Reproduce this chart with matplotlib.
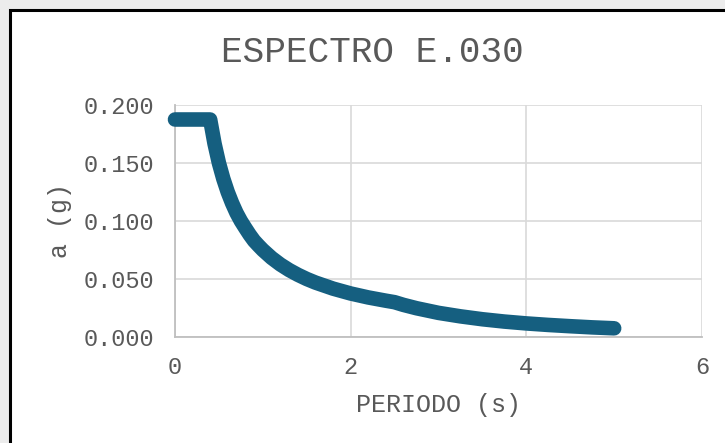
import matplotlib
matplotlib.use("Agg")
import matplotlib.pyplot as plt
from matplotlib.patches import Rectangle

# Spectrum values: period (s) vs spectral acceleration (g)
periods = [0.0, 0.1, 0.2, 0.3, 0.4, 0.45, 0.5, 0.55, 0.6, 0.65, 0.7, 0.75,
           0.8, 0.85, 0.9, 0.95, 1.0, 1.1, 1.2, 1.3, 1.4, 1.5, 1.6, 1.8, 2.0,
           2.2, 2.4, 2.5, 2.6, 2.75, 3.0, 3.25, 3.5, 3.75, 4.0, 4.25, 4.5,
           4.75, 5.0]
accel = [0.1875, 0.1875, 0.1875, 0.1875, 0.1875, 0.1667, 0.150, 0.1364,
         0.125, 0.1154, 0.107, 0.100, 0.094, 0.0882, 0.083, 0.0789, 0.075,
         0.0682, 0.0625, 0.0577, 0.0536, 0.050, 0.0469, 0.0417, 0.0375,
         0.0341, 0.0313, 0.030, 0.0277, 0.0248, 0.0208, 0.0178, 0.0153,
         0.0133, 0.0117, 0.0104, 0.0093, 0.0083, 0.0075]
x_ticks = [0, 2, 4, 6]
y_ticks = [0.0, 0.05, 0.10, 0.15, 0.20]

font = "Liberation Mono"
text_col = "#595959"
line_col = "#155f80"

fig = plt.figure(figsize=(7.25, 4.43), dpi=100)
fig.patch.set_facecolor("#ececec")

# white chart frame with black border, cut by the image edges
W, H = 725, 443
frame = Rectangle((10 / W, -0.05), 1.1, (H - 10) / H + 0.05,
                  transform=fig.transFigure, facecolor="white",
                  edgecolor="black", linewidth=2.2, zorder=-1)
fig.patches.append(frame)

ax = fig.add_axes([175 / W, 1 - 337 / H, (702 - 175) / W, (337 - 105) / H])
ax.set_zorder(1)
ax.set_facecolor("white")

ax.plot(periods, accel, color=line_col, linewidth=10.5,
        solid_capstyle="round", solid_joinstyle="round", zorder=3,
        clip_on=False)

ax.set_xlim(0, 6)
ax.set_ylim(0, 0.2)
ax.set_xticks(x_ticks)
ax.set_yticks(y_ticks)
ax.set_yticklabels([f"{v:.3f}" for v in y_ticks])
ax.grid(True, color="#d9d9d9", linewidth=1.2)
ax.set_axisbelow(True)

for s in ["top", "right"]:
    ax.spines[s].set_visible(False)
for s in ["left", "bottom"]:
    ax.spines[s].set_color("#bfbfbf")
    ax.spines[s].set_linewidth(1.3)

ax.tick_params(length=0, labelsize=17, labelcolor=text_col)
ax.tick_params(axis="x", pad=14)
ax.tick_params(axis="y", pad=15)
for lbl in ax.get_xticklabels() + ax.get_yticklabels():
    lbl.set_fontfamily(font)

ax.set_xlabel("PERIODO (s)", fontsize=18, family=font, color=text_col, labelpad=10)
ax.set_ylabel("a (g)", fontsize=18, family=font, color=text_col, labelpad=8)
fig.text(372 / W, 1 - 52 / H, "ESPECTRO E.030", fontsize=26, family=font,
         color=text_col, ha="center", va="center")

fig.savefig("out.png", dpi=100)
